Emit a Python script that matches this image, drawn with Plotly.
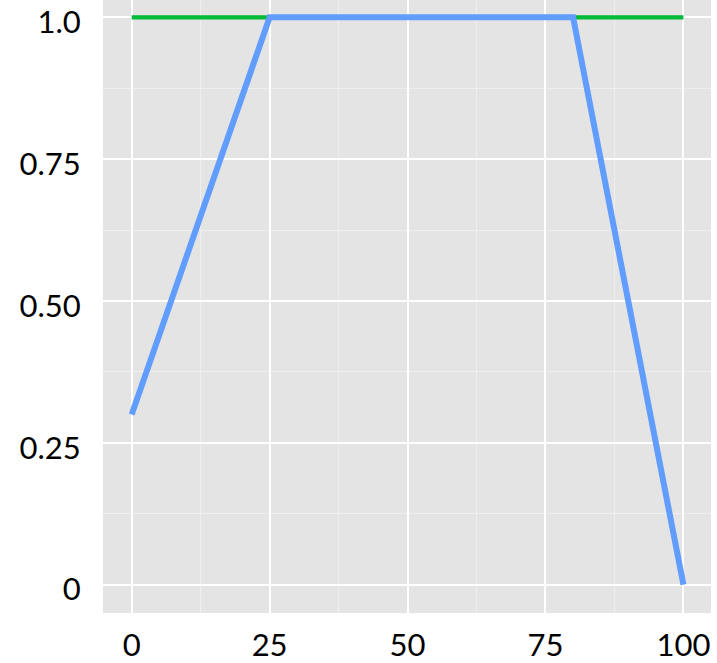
import plotly.graph_objects as go

# series data
x_green = [0, 100]
y_green = [1.0, 1.0]

x_blue = [0, 25, 80, 100]
y_blue = [0.3, 1.0, 1.0, 0.0]

# axis ticks
x_ticks = [0, 25, 50, 75, 100]
x_ticktext = ["0", "25", "50", "75", "100"]
y_ticks = [0, 0.25, 0.5, 0.75, 1.0]
y_ticktext = ["0", "0.25", "0.50", "0.75", "1.0"]

GREEN = "#00BA38"
BLUE = "#619CFF"
PANEL = "#E4E4E4"

fig = go.Figure()
fig.add_trace(go.Scatter(x=x_green, y=y_green, mode="lines",
                         line=dict(color=GREEN, width=4.3), showlegend=False))
fig.add_trace(go.Scatter(x=x_blue, y=y_blue, mode="lines",
                         line=dict(color=BLUE, width=6), showlegend=False))

axis_font = dict(family="Lato, Open Sans, sans-serif", size=31, color="black")

fig.update_layout(
    width=717, height=663,
    margin=dict(l=103, r=6, t=0, b=50),
    paper_bgcolor="white",
    plot_bgcolor=PANEL,
    font=axis_font,
)
fig.update_xaxes(
    range=[-5.2, 105], tickvals=x_ticks, ticktext=x_ticktext,
    showgrid=True, gridcolor="white", gridwidth=2, zeroline=False,
    ticks="outside", ticklen=5, tickcolor="rgba(0,0,0,0)",
    minor=dict(dtick=12.5, tick0=0, showgrid=True, gridcolor="#EFEFEF", gridwidth=1),
    tickfont=axis_font, showline=False, automargin=False,
    ticklabeloverflow="allow",
)
fig.update_yaxes(
    range=[-0.05, 1.0305], tickvals=y_ticks, ticktext=y_ticktext,
    showgrid=True, gridcolor="white", gridwidth=2, zeroline=False,
    ticks="outside", ticklen=15, tickcolor="rgba(0,0,0,0)",
    minor=dict(dtick=0.125, tick0=0, showgrid=True, gridcolor="#EFEFEF", gridwidth=1),
    tickfont=axis_font, showline=False, automargin=False,
    ticklabeloverflow="allow", ticklabelshift=5,
)

fig.write_html("out.html")
